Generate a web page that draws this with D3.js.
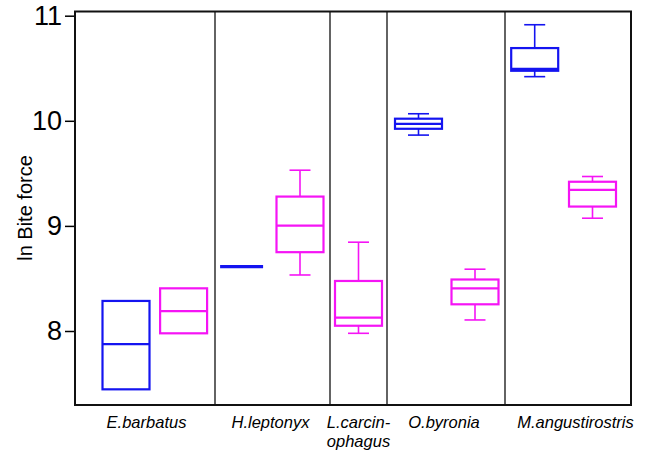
<!DOCTYPE html>
<html>
<head>
<meta charset="utf-8">
<script src="https://cdn.jsdelivr.net/npm/d3@7"></script>
<style>
  body { margin: 0; background: #fff; }
  text { font-family: Arial, "Liberation Sans", sans-serif; }
</style>
</head>
<body>
<svg id="chart" width="646" height="454"></svg>
<script>
// species along the x axis (label lines as printed)
const species = ['E.barbatus', 'H.leptonyx', 'L.carcinophagus', 'O.byronia', 'M.angustirostris'];
const speciesLabels = [['E.barbatus'], ['H.leptonyx'], ['L.carcin-', 'ophagus'], ['O.byronia'], ['M.angustirostris']];

// [min, q1, median, q3, max] of ln bite force; null = not shown
const blueStats = [
  [null, 7.445, 7.876, 8.286, null],
  [null, 8.612, 8.612, 8.612, null],
  null,
  [9.864, 9.924, 9.971, 10.02, 10.067],
  [10.42, 10.476, 10.495, 10.692, 10.914]
];
const pinkStats = [
  [null, 7.978, 8.19, 8.406, null],
  [8.533, 8.75, 9.003, 9.279, 9.53],
  [7.978, 8.05, 8.127, 8.476, 8.845],
  [8.105, 8.254, 8.406, 8.49, 8.588],
  [9.073, 9.184, 9.343, 9.42, 9.47]
];
const yTicks = [8, 9, 10, 11];

// layout (panel widths are uneven in the original figure)
const panelEdges = [0, 140, 255, 312, 430, 556];
const blueCenter = [51, 166.6, null, 343.5, 459.7];
const pinkCenter = [108.6, 225, 283.5, 400, 517.5];
const labelShift = [1.5, -2, 0, -2, 7.5];
const boxW = 47, capW = 21;
const colors = { blue: '#1414f0', pink: '#f514f5' };

const svg = d3.select('#chart');
const plotLeft = 75, plotRight = 631, plotTop = 11.5, plotBottom = 405;

const x = d3.scaleLinear().domain([0, 556]).range([plotLeft, plotRight]);
const y = d3.scaleLinear().domain([8, 11]).range([331, 15.7]);

// y axis
const yAxis = svg.append('g')
    .attr('transform', `translate(${plotLeft},0)`)
    .call(d3.axisLeft(y).tickValues(yTicks).tickSize(10).tickPadding(3).tickFormat(d3.format('d')));
yAxis.select('.domain').remove();
yAxis.selectAll('.tick line').attr('stroke', '#000').attr('stroke-width', 1.5);
yAxis.selectAll('.tick text')
    .attr('font-size', 27)
    .attr('fill', '#000')
    .attr('font-family', 'Arial, "Liberation Sans", sans-serif');

svg.append('text')
    .attr('transform', `translate(32,208) rotate(-90)`)
    .attr('text-anchor', 'middle')
    .attr('font-size', 20)
    .text('ln Bite force');

// panel dividers
svg.append('g').selectAll('line')
    .data(panelEdges.slice(1, -1))
    .join('line')
    .attr('x1', d => x(d)).attr('x2', d => x(d))
    .attr('y1', plotTop).attr('y2', plotBottom)
    .attr('stroke', '#222')
    .attr('stroke-width', 1.4);

function drawBox(g, s, cx, color) {
  const [mn, q1, med, q3, mx] = s;
  const x0 = x(cx) - boxW / 2, x1 = x(cx) + boxW / 2;
  if (q1 === q3) {
    g.append('line')
        .attr('x1', x0 + 2).attr('x2', x1 - 2)
        .attr('y1', y(med)).attr('y2', y(med))
        .attr('stroke', color).attr('stroke-width', 3.2);
    return;
  }
  if (mx != null) {
    g.append('line').attr('x1', x(cx)).attr('x2', x(cx))
        .attr('y1', y(mx)).attr('y2', y(q3)).attr('stroke', color).attr('stroke-width', 1.6);
    g.append('line').attr('x1', x(cx) - capW / 2).attr('x2', x(cx) + capW / 2)
        .attr('y1', y(mx)).attr('y2', y(mx)).attr('stroke', color).attr('stroke-width', 1.6);
  }
  if (mn != null) {
    g.append('line').attr('x1', x(cx)).attr('x2', x(cx))
        .attr('y1', y(q1)).attr('y2', y(mn)).attr('stroke', color).attr('stroke-width', 1.6);
    g.append('line').attr('x1', x(cx) - capW / 2).attr('x2', x(cx) + capW / 2)
        .attr('y1', y(mn)).attr('y2', y(mn)).attr('stroke', color).attr('stroke-width', 1.6);
  }
  g.append('rect')
      .attr('x', x0).attr('width', x1 - x0)
      .attr('y', y(q3)).attr('height', y(q1) - y(q3))
      .attr('fill', 'none').attr('stroke', color).attr('stroke-width', 2.2);
  g.append('line')
      .attr('x1', x0).attr('x2', x1)
      .attr('y1', y(med)).attr('y2', y(med))
      .attr('stroke', color).attr('stroke-width', 2.2);
}

const boxes = svg.append('g');
species.forEach((sp, i) => {
  if (blueStats[i]) drawBox(boxes.append('g'), blueStats[i], blueCenter[i], colors.blue);
  if (pinkStats[i]) drawBox(boxes.append('g'), pinkStats[i], pinkCenter[i], colors.pink);
});

// frame
svg.append('rect')
    .attr('x', plotLeft).attr('y', plotTop)
    .attr('width', plotRight - plotLeft).attr('height', plotBottom - plotTop)
    .attr('fill', 'none').attr('stroke', '#111').attr('stroke-width', 2);

// species labels
const labels = svg.append('g')
    .attr('font-size', 16.5)
    .attr('font-style', 'italic')
    .attr('text-anchor', 'middle');
speciesLabels.forEach((lines, i) => {
  const cx = x((panelEdges[i] + panelEdges[i + 1]) / 2) + labelShift[i];
  const t = labels.append('text').attr('x', cx).attr('y', 427.5);
  lines.forEach((ln, k) => {
    t.append('tspan').attr('x', cx).attr('dy', k === 0 ? 0 : 19.5).text(ln);
  });
});
</script>
</body>
</html>
